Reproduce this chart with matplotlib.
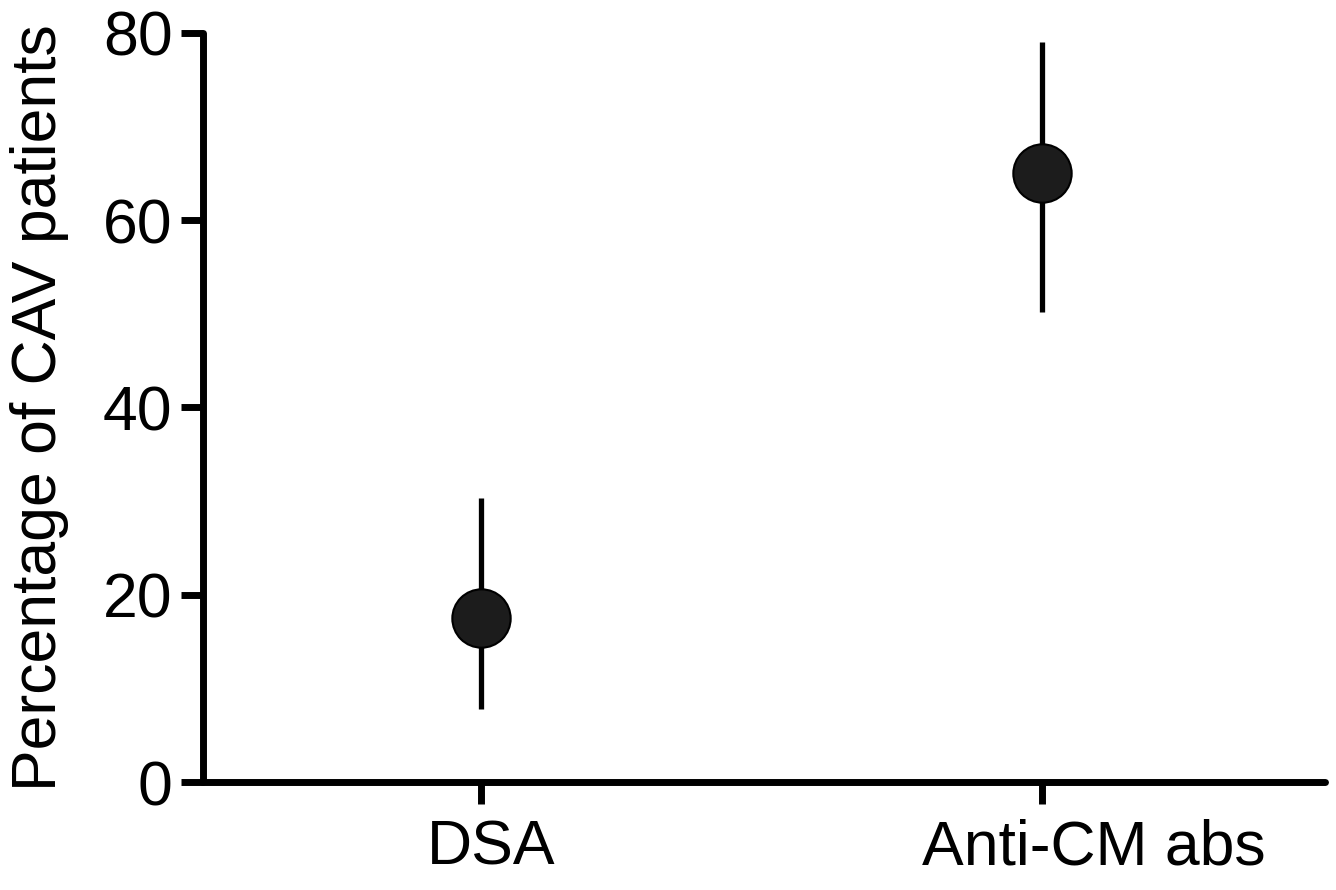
import matplotlib.pyplot as plt
from matplotlib.transforms import ScaledTranslation

plt.rcParams['font.family'] = ['Liberation Sans', 'DejaVu Sans']

# data
groups = ['DSA', 'Anti-CM abs']
pct = [17.5, 65.0]
err_low = [7.8, 50.2]
err_high = [30.3, 79.0]
y_ticks = [0, 20, 40, 60, 80]

positions = list(range(1, len(groups) + 1))
lower = [p - lo for p, lo in zip(pct, err_low)]
upper = [hi - p for p, hi in zip(pct, err_high)]

fig = plt.figure(figsize=(13.36, 8.9), dpi=100)
ax = fig.add_axes([0.152, 0.1213, 0.84, 0.8417])

ax.errorbar(positions, pct, yerr=[lower, upper], fmt='none',
            ecolor='black', elinewidth=3.8, capsize=0, zorder=2)
ax.plot(positions, pct, 'o', markersize=42, markerfacecolor='#1c1c1c',
        markeredgecolor='black', markeredgewidth=1.5, zorder=3)

ax.set_xlim(0.505, 2.505)
ax.set_ylim(0, 80)
ax.set_xticks(positions)
ax.set_xticklabels(groups)
ax.set_yticks(y_ticks)
ax.set_ylabel('Percentage of CAV patients', fontsize=45, labelpad=24)

for side in ['top', 'right']:
    ax.spines[side].set_visible(False)
for side in ['left', 'bottom']:
    ax.spines[side].set_linewidth(5)
    ax.spines[side].set_capstyle('round')

ax.tick_params(axis='both', width=5, length=16, labelsize=45, color='black')
ax.tick_params(axis='x', pad=10)
ax.tick_params(axis='y', pad=6)

# labels sit a little right of their ticks in the original
shifts = [0.10, 0.52]
for lbl, dx in zip(ax.get_xticklabels(), shifts):
    lbl.set_transform(lbl.get_transform() + ScaledTranslation(dx, 0, fig.dpi_scale_trans))

fig.savefig('out.png', dpi=100)
